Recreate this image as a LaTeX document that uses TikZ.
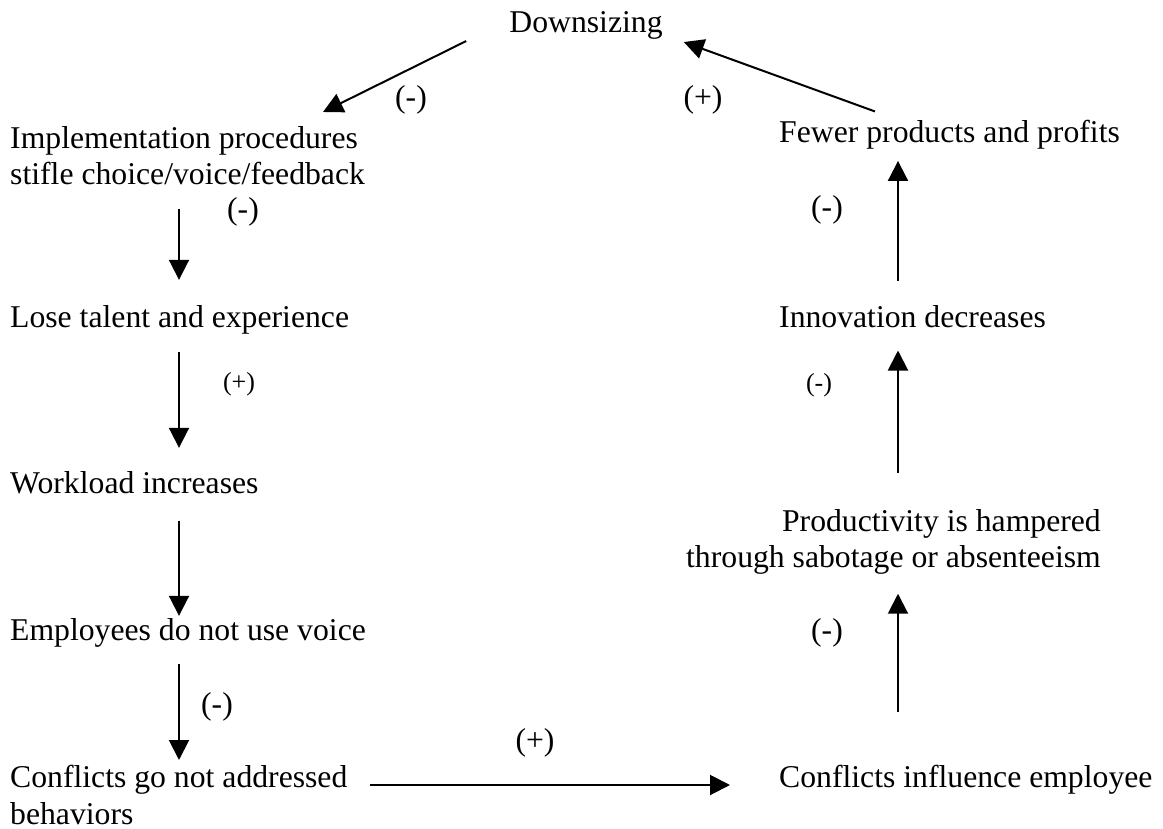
\documentclass[tikz,border=0pt]{standalone}
\usepackage{fontspec}
\setmainfont{Liberation Serif}
\usepackage{tikz}
\usetikzlibrary{arrows.meta}
\tikzset{c-text/.style={inner sep=0pt, font=\fontsize{31.7}{36.5}\selectfont},
c-sign/.style={inner sep=0pt, font=\fontsize{31.7}{36.5}\selectfont},
c-sign-small/.style={inner sep=0pt, font=\fontsize{26}{30}\selectfont},
arrow/.style={line width=2pt,-{Triangle[length=20pt,width=20pt]}}}

\begin{document}
\begin{tikzpicture}[x=1pt,y=1pt]
\useasboundingbox (0,0) rectangle (1163,-829);
\coordinate (colL) at (179,0);
\coordinate (colR) at (898,0);
\node (down) [c-text, anchor=base] at (586,-33) {Downsizing};
\node (impl) [c-text, anchor=north west, align=left] at (10,-126) {Implementation procedures\\stifle choice/voice/feedback};
\node (lose) [c-text, anchor=base west] at (10,-327) {Lose talent and experience};
\node (work) [c-text, anchor=base west] at (10,-493) {Workload increases};
\node (empl) [c-text, anchor=base west] at (10,-640) {Employees do not use voice};
\node (conf) [c-text, anchor=north west, align=left] at (10,-765) {Conflicts go not addressed\\behaviors};
\node (infl) [c-text, anchor=base west] at (779,-787) {Conflicts influence employee};
\node (prod) [c-text, anchor=north east, align=right] at (1101,-509) {Productivity is hampered\\through sabotage or absenteeism};
\node (innov) [c-text, anchor=base west] at (779,-327) {Innovation decreases};
\node (fewer) [c-text, anchor=base west] at (779,-143) {Fewer products and profits};
\node (s1) [c-sign] at (411,-100) {(-)};
\node (s2) [c-sign] at (703,-100) {(+)};
\node (s3) [c-sign] at (243,-212) {(-)};
\node (s4) [c-sign-small] at (239,-384) {(+)};
\node (s5) [c-sign] at (217,-707) {(-)};
\node (s6) [c-sign] at (535,-743) {(+)};
\node (s7) [c-sign] at (827,-633) {(-)};
\node (s8) [c-sign-small] at (819,-385) {(-)};
\node (s9) [c-sign] at (827,-210) {(-)};
\draw [arrow] ([shift={(-43,-1)}]down.south west) -- ([shift={(313,14)}]impl.north west);
\draw [arrow] ([yshift=-24pt]impl.south -| colL) -- ([yshift=25pt]lose.north -| colL);
\draw [arrow] ([yshift=-18pt]lose.south -| colL) -- ([yshift=23pt]work.north -| colL);
\draw [arrow] ([yshift=-27pt]work.south -| colL) -- ([yshift=2pt]empl.north -| colL);
\draw [arrow] ([yshift=-17pt]empl.south -| colL) -- ([yshift=5pt]conf.north -| colL);
\draw [arrow] ([shift={(22,2)}]conf.east |- infl.base) -- ([shift={(-49,2)}]infl.base west);
\draw [arrow] ([yshift=52pt]infl.north -| colR) -- ([yshift=-19pt]prod.south -| colR);
\draw [arrow] ([yshift=36pt]prod.north -| colR) -- ([yshift=-23pt]innov.south -| colR);
\draw [arrow] ([yshift=24pt]innov.north -| colR) -- ([yshift=-11pt]fewer.south -| colR);
\draw [arrow] ([shift={(96,9)}]fewer.north west) -- ([shift={(21,-2)}]down.south east);
\end{tikzpicture}
\end{document}
